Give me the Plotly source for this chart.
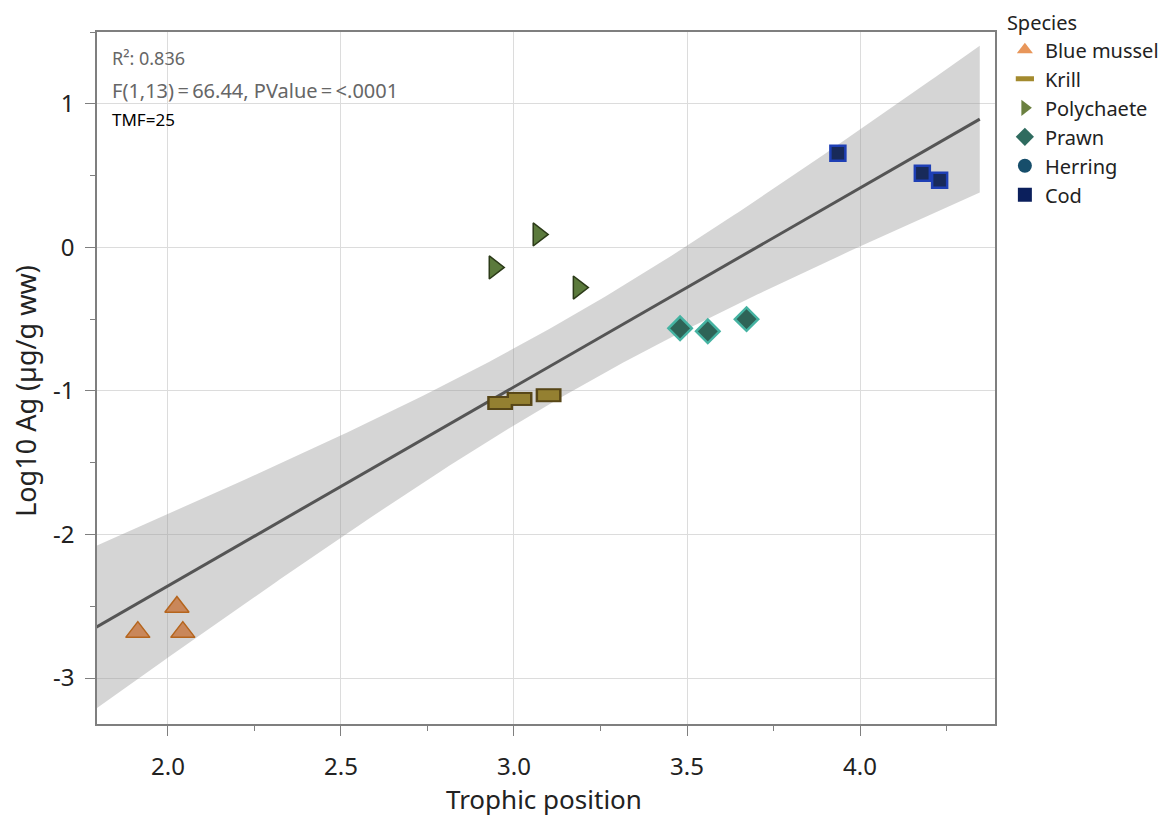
import numpy as np
import plotly.graph_objects as go

species = ["Blue mussel", "Krill", "Polychaete", "Prawn", "Herring", "Cod"]
tp_blue = [1.913, 2.026, 2.043]
ag_blue = [-2.68, -2.505, -2.68]
tp_krill = [2.96, 3.016, 3.10]
ag_krill = [-1.084, -1.056, -1.03]
tp_poly = [3.07, 2.943, 3.186]
ag_poly = [0.09, -0.14, -0.28]
tp_prawn = [3.48, 3.56, 3.672]
ag_prawn = [-0.564, -0.585, -0.50]
tp_herring = []
ag_herring = []
tp_cod = [3.936, 4.18, 4.23]
ag_cod = [0.655, 0.516, 0.467]

legend_colors = ["#E8965A", "#A38A2E", "#6B8040", "#2F6B5F", "#174E6B", "#0B1F5C"]
legend_symbols = ["triangle-up", "line-ew", "triangle-right", "diamond", "circle", "square"]

xvals = np.array(tp_blue + tp_krill + tp_poly + tp_prawn + tp_herring + tp_cod)
yvals = np.array(ag_blue + ag_krill + ag_poly + ag_prawn + ag_herring + ag_cod)
n = len(xvals)
slope, intercept = np.polyfit(xvals, yvals, 1)
resid = yvals - (slope * xvals + intercept)
s = np.sqrt(np.sum(resid ** 2) / (n - 2))
xbar = xvals.mean()
sxx = np.sum((xvals - xbar) ** 2)
tcrit = 2.1604
xf = np.linspace(1.78, 4.346, 200)
yf = slope * xf + intercept
se = s * np.sqrt(1.0 / n + (xf - xbar) ** 2 / sxx)
upper = yf + tcrit * se
lower = yf - tcrit * se

font = "Noto Sans"
fig = go.Figure()

# confidence band
fig.add_trace(go.Scatter(x=np.concatenate([xf, xf[::-1]]), y=np.concatenate([upper, lower[::-1]]),
                         fill="toself", fillcolor="rgba(150,150,150,0.40)", line=dict(width=0),
                         mode="lines", showlegend=False, hoverinfo="skip"))
fig.add_trace(go.Scatter(x=xf, y=yf, mode="lines", line=dict(color="#555555", width=3),
                         showlegend=False))

# data markers
fig.add_trace(go.Scatter(x=tp_blue, y=ag_blue, mode="markers", showlegend=False,
                         marker=dict(symbol="triangle-up", size=21, color="#C9875A",
                                     line=dict(color="#B5651D", width=1.5))))
fig.add_trace(go.Scatter(x=tp_krill, y=ag_krill, mode="markers", showlegend=False,
                         marker=dict(symbol="line-ew", size=18.5, color="#574617",
                                     line=dict(color="#574617", width=14))))
fig.add_trace(go.Scatter(x=tp_krill, y=ag_krill, mode="markers", showlegend=False,
                         marker=dict(symbol="line-ew", size=15, color="#948031",
                                     line=dict(color="#948031", width=10))))
fig.add_trace(go.Scatter(x=tp_poly, y=ag_poly, mode="markers", showlegend=False,
                         marker=dict(symbol="triangle-right", size=20, color="#5B7A3C",
                                     line=dict(color="#2B3A18", width=1.5))))
fig.add_trace(go.Scatter(x=tp_prawn, y=ag_prawn, mode="markers", showlegend=False,
                         marker=dict(symbol="diamond", size=18, color="#2E6457",
                                     line=dict(color="#45B3A2", width=2.5))))
fig.add_trace(go.Scatter(x=tp_cod, y=ag_cod, mode="markers", showlegend=False,
                         marker=dict(symbol="square", size=15, color="#182A5A",
                                     line=dict(color="#1E3FB5", width=2.5))))

# legend entries
for name, col, sym in zip(species, legend_colors, legend_symbols):
    if sym == "line-ew":
        mk = dict(symbol=sym, size=13, color=col, line=dict(color=col, width=8))
    else:
        mk = dict(symbol=sym, size=14, color=col, line=dict(width=0))
    fig.add_trace(go.Scatter(x=[None], y=[None], mode="markers", name=name, marker=mk))

fig.add_annotation(x=0.0145, y=0.962, xref="paper", yref="paper", xanchor="left", yanchor="middle",
                   text="R²: 0.836", showarrow=False, font=dict(family=font, size=18, color="#666666"))
fig.add_annotation(x=0.0145, y=0.915, xref="paper", yref="paper", xanchor="left", yanchor="middle",
                   text="F(1,13)\u2009=\u200966.44, PValue\u2009=\u2009<.0001", showarrow=False,
                   font=dict(family=font, size=20, color="#666666"))
fig.add_annotation(x=0.0145, y=0.874, xref="paper", yref="paper", xanchor="left", yanchor="middle",
                   text="TMF=25", showarrow=False, font=dict(family=font, size=17, color="#000000"))

# axis titles
fig.add_annotation(x=0.498, y=-0.109, xref="paper", yref="paper", xanchor="center", yanchor="middle",
                   text="Trophic position", showarrow=False,
                   font=dict(family=font, size=26, color="#222222"))
fig.add_annotation(x=-0.0805, y=0.481, xref="paper", yref="paper", xanchor="center", yanchor="middle",
                   text="Log10 Ag (µg/g ww)", showarrow=False, textangle=-90,
                   font=dict(family=font, size=27, color="#222222"))

fig.update_layout(
    width=1160, height=810,
    margin=dict(l=89, r=173, t=24, b=94, autoexpand=False),
    plot_bgcolor="white", paper_bgcolor="white",
    font=dict(family=font, size=24, color="#222222"),
    legend=dict(title=dict(text="Species", font=dict(size=20)), font=dict(size=20),
                x=1.011, y=1.04, xanchor="left", yanchor="top",
                tracegroupgap=0),
    xaxis=dict(range=[1.795, 4.39], tickvals=[2.0, 2.5, 3.0, 3.5, 4.0],
               ticktext=["2.0", "2.5", "3.0", "3.5", "4.0"],
               showgrid=True, gridcolor="#dcdcdc", gridwidth=1,
               showline=True, linecolor="#7f7f7f", linewidth=1.5, mirror=True,
               ticks="outside", ticklen=10, tickcolor="#7f7f7f", ticklabelstandoff=10,
               minor=dict(tickvals=[2.25, 2.75, 3.25, 3.75, 4.25], ticks="outside", ticklen=5,
                          tickcolor="#7f7f7f", showgrid=False),
               zeroline=False, tickfont=dict(size=24)),
    yaxis=dict(range=[-3.32, 1.50], tickvals=[1, 0, -1, -2, -3],
               ticktext=["1", "0", "-1", "-2", "-3"],
               showgrid=True, gridcolor="#dcdcdc", gridwidth=1,
               showline=True, linecolor="#7f7f7f", linewidth=1.5, mirror=True,
               ticks="outside", ticklen=10, tickcolor="#7f7f7f", ticklabelstandoff=6,
               minor=dict(tickvals=[1.5, 0.5, -0.5, -1.5, -2.5], ticks="outside", ticklen=5,
                          tickcolor="#7f7f7f", showgrid=False),
               zeroline=False, tickfont=dict(size=24)),
)

fig.write_html("out.html")
